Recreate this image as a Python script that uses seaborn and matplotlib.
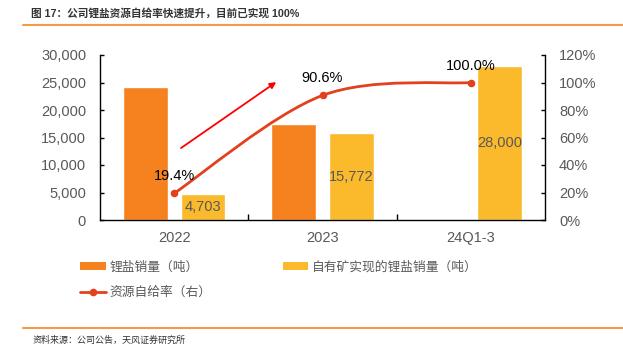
import numpy as np
import pandas as pd
import matplotlib
matplotlib.use("Agg")
import matplotlib.pyplot as plt
import seaborn as sns
from matplotlib.path import Path
from matplotlib.patches import PathPatch, Patch
from matplotlib.lines import Line2D

sns.set_theme(style="white")
plt.rcParams['font.family'] = ['Liberation Sans', 'Noto Sans CJK SC', 'DejaVu Sans']

# ---------------- data ----------------
periods = ["2022", "2023", "24Q1-3"]
lithium_sales = [24200, 17400, np.nan]          # 锂盐销量（吨）
self_supply_sales = [4703, 15772, 28000]        # 自有矿实现的锂盐销量（吨）
self_supply_rate = [19.4, 90.6, 100.0]          # 资源自给率（右）, %
left_ticks = [0, 5000, 10000, 15000, 20000, 25000, 30000]
right_ticks = [0, 20, 40, 60, 80, 100, 120]

s1 = "锂盐销量（吨）"
s2 = "自有矿实现的锂盐销量（吨）"
s3 = "资源自给率（右）"
title = "图 17：公司锂盐资源自给率快速提升，目前已实现 100%"
source = "资料来源：公司公告，天风证券研究所"

c_orange = "#F5821F"
c_yellow = "#FBBA2B"
c_line = "#E2411E"
c_gray = "#595959"
c_rule = "#F29B4C"

df = pd.DataFrame({
    "period": periods * 2,
    "series": [s1] * 3 + [s2] * 3,
    "value": lithium_sales + self_supply_sales,
}).dropna()

W, H = 623, 352
fig = plt.figure(figsize=(W / 100, H / 100), dpi=100)
ax = fig.add_axes([100 / W, 1 - 220 / H, 445 / W, 165 / H])

sns.barplot(data=df, x="period", y="value", hue="series", order=periods,
            hue_order=[s1, s2], palette=[c_orange, c_yellow], saturation=1,
            width=0.78, gap=0.23, legend=False, ax=ax, errorbar=None)

# value labels on yellow bars
yellow_container = ax.containers[1]
ax.bar_label(yellow_container, labels=[f"{v:,.0f}" for v in self_supply_sales],
             label_type="center", fontsize=10.5, color=c_gray)

ax.set_xlim(-0.5, 2.5)
ax.set_ylim(0, 30000)
ax.set_yticks(left_ticks)
ax.set_yticklabels([f"{v:,}" for v in left_ticks])
ax.set_xlabel("")
ax.set_ylabel("")
ax.set_xticks(range(len(periods)))
ax.set_xticklabels(periods)
ax.set_xticks([0.5, 1.5], minor=True)
ax.tick_params(axis="x", which="major", length=0, pad=8, labelsize=10.5, colors=c_gray)
ax.tick_params(axis="x", which="minor", direction="in", length=4, width=1, color="black", bottom=True)
ax.tick_params(axis="y", direction="in", length=3, width=1, color="black", pad=10,
               labelsize=10.5, labelcolor=c_gray, left=True)
for sp in ["left", "bottom"]:
    ax.spines[sp].set_color("black")
    ax.spines[sp].set_linewidth(1)
ax.spines["top"].set_visible(False)
ax.spines["right"].set_visible(False)

# ---------------- right axis line ----------------
ax2 = ax.twinx()
ax2.set_ylim(0, 120)
ax2.set_yticks(right_ticks)
ax2.set_yticklabels([f"{v}%" for v in right_ticks])
ax2.tick_params(axis="y", direction="in", length=3, width=1, color="black", pad=10,
                labelsize=10.5, labelcolor=c_gray, right=True)
for sp in ["left", "top", "bottom"]:
    ax2.spines[sp].set_visible(False)
ax2.spines["right"].set_color("black")
ax2.spines["right"].set_linewidth(1)
ax2.grid(False)
ax.grid(False)

xs = np.arange(len(periods), dtype=float)
ys = np.array(self_supply_rate, dtype=float)
pts = np.column_stack([xs, ys])
verts = [tuple(pts[0])]
codes = [Path.MOVETO]
k = 1 / 6
for i in range(len(pts) - 1):
    p_prev = pts[i - 1] if i > 0 else pts[i]
    p_next2 = pts[i + 2] if i + 2 < len(pts) else pts[i + 1]
    c1 = pts[i] + (pts[i + 1] - p_prev) * k
    c2 = pts[i + 1] - (p_next2 - pts[i]) * k
    verts += [tuple(c1), tuple(c2), tuple(pts[i + 1])]
    codes += [Path.CURVE4] * 3
ax2.add_patch(PathPatch(Path(verts, codes), fill=False, edgecolor=c_line, lw=2))
sns.scatterplot(x=xs, y=ys, ax=ax2, color=c_line, s=30, edgecolor=c_line, linewidth=0, zorder=5)
for x, y in zip(xs, ys):
    ax2.annotate(f"{y:.1f}%", (x, y), xytext=(0, 17), textcoords="offset pixels",
                 ha="center", va="center", fontsize=10.5, color="black")

# red trend arrow (axes fraction)
ax.annotate("", xy=(0.396, 0.836), xytext=(0.182, 0.436), xycoords="axes fraction",
            textcoords="axes fraction",
            arrowprops=dict(arrowstyle="-|>", color="#FF0000", lw=1.3, mutation_scale=9,
                            shrinkA=0, shrinkB=0), zorder=6)

# ---------------- legend ----------------
handles = [
    Patch(facecolor=c_orange, edgecolor="none"),
    Line2D([0], [0], color=c_line, lw=2, marker="o", markersize=4.5),
    Patch(facecolor=c_yellow, edgecolor="none"),
]
labels = [s1, s3, s2]
fig.legend(handles, labels, loc="upper left", bbox_to_anchor=(80 / W, 1 - 261 / H),
           ncol=2, frameon=False, fontsize=9.2, handlelength=2.0, handleheight=0.55,
           handletextpad=0.3, columnspacing=5.6, labelspacing=1.05,
           labelcolor=c_gray, borderpad=0, borderaxespad=0)

# ---------------- title / source / rules ----------------
fig.text(31 / W, 1 - 13 / H, title, fontsize=7.7, fontweight="bold", color="#333333",
         va="center", ha="left")
fig.add_artist(Line2D([23 / W, 1], [1 - 25 / H] * 2, color=c_rule, lw=1.5))
fig.add_artist(Line2D([23 / W, 1], [1 - 328 / H] * 2, color=c_rule, lw=1.5))
fig.text(33 / W, 1 - 340 / H, source, fontsize=6.5, color="#333333", va="center", ha="left")

fig.savefig("out.png", dpi=100)
